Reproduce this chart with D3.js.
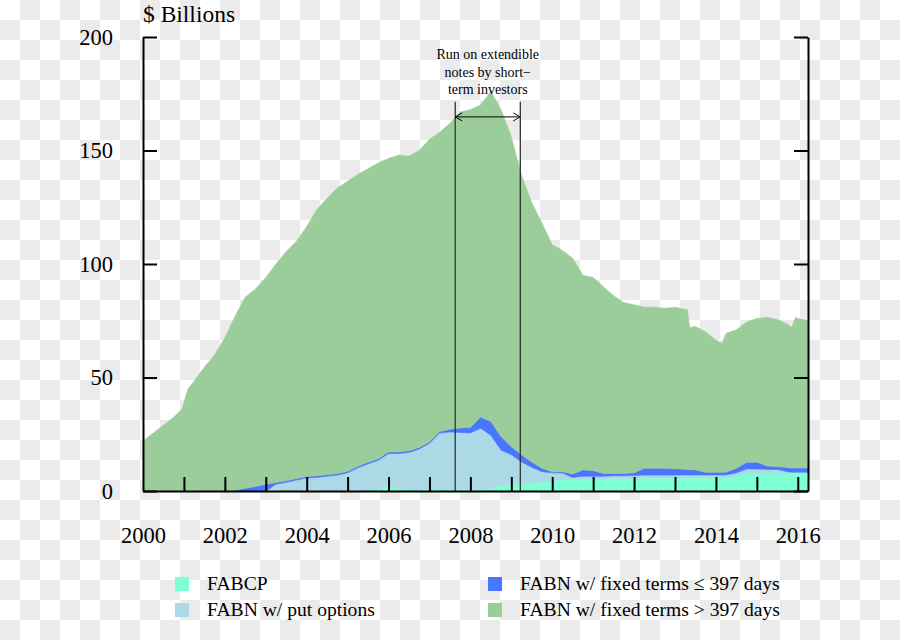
<!DOCTYPE html>
<html><head><meta charset="utf-8">
<script src="https://cdn.jsdelivr.net/npm/d3@7/dist/d3.min.js"></script>
<style>
body{margin:0;background:#fff;}
svg{display:block;}
text{font-family:"Liberation Serif","Times New Roman",serif;fill:#000;}
</style>
</head><body>
<svg id="chart" width="900" height="640"></svg>
<script>
// ---- data ($ billions at roughly quarterly dates) ----
const dates = [2000.00,2000.25,2000.50,2000.75,2000.95,2001.10,2001.25,2001.50,2001.75,2002.00,2002.25,2002.50,2002.75,
  2003.00,2003.25,2003.50,2003.75,2004.00,2004.25,2004.50,2004.75,2005.00,2005.25,2005.50,2005.75,
  2006.00,2006.25,2006.50,2006.75,2007.00,2007.25,2007.50,2007.75,2008.00,2008.25,2008.50,2008.75,
  2009.00,2009.25,2009.50,2009.75,2010.00,2010.25,2010.50,2010.75,2011.00,2011.25,2011.50,2011.75,
  2012.00,2012.25,2012.50,2012.75,2013.00,2013.25,2013.30,2013.36,2013.50,2013.75,2014.00,2014.15,2014.25,2014.50,2014.75,
  2015.00,2015.25,2015.50,2015.75,2015.85,2015.95,2016.00,2016.25];
const fabcp = [0,0,0,0,0,0,0,0,0,0,0,0,0,
  0,0,0,0,0,0,0,0,0,0.2,0.5,0.5,
  2.5,0.8,0.7,0.7,0.7,0.7,0.7,0.8,0.8,0.8,0.8,2.6,
  3,3.2,3.5,4,4.5,5,5,5,5.3,5.3,5.5,5.5,
  5.6,5.7,5.7,5.7,5.7,5.8,5.8,5.8,5.8,5.8,5.8,5.8,5.8,6.5,8,
  8,8,8,8,8,8,8,8];
const fabnPut = [0,0,0,0,0,0,0,0,0,0,0,0,0,
  0,3,3.8,4.8,5.7,6,6.5,7,8,10,11.5,13,
  14,15.7,16.3,17.8,20.3,24.8,25.3,25,24.8,26.8,23.8,15.4,
  13,9.6,7,4.5,3.5,2.9,1,1.5,1.2,1.2,1.2,1.2,
  1.2,1.3,1.3,1.3,1.3,1.3,1.3,1.3,1.3,1.3,1.3,1.3,1.3,1.5,1.7,
  1.7,1.5,1.5,0.5,0.3,0.3,0.3,0.3];
const fabnShort = [0,0,0,0,0,0,0,0,0,0,0.3,1.2,2,
  3,0.7,0.7,0.7,0.7,0.7,0.7,0.7,0.7,0.7,0.7,0.7,
  0.7,0.7,0.7,0.7,0.7,0.7,1.2,2,2.5,5,6,6,
  3.5,3.2,2.3,1.5,0.5,0.6,1.5,2.8,2.5,1.2,1,1,
  1.2,3,3,3,2.8,2.5,2.5,2.3,2.2,1.2,1.2,1.2,1.2,2,3,
  3,1.5,1.3,1.8,1.8,1.8,1.8,1.8];
const fabnLong = [22,25.5,29,32.5,36,45,48.5,54.5,60,67.5,76.7,84.3,87,
  91,96.3,101,104.5,110.1,117.3,121.8,125.8,127.8,128.6,129.3,130.3,
  129.3,130.8,129.8,130.8,133.3,131.8,134.8,139.2,139.9,137.4,145.4,144,
  136.5,123,114.2,108,100,97.5,95,85.7,85,82.3,78.3,75.3,
  74,71,71,70.5,71.2,70.4,70.4,62.6,63.2,61.7,58.2,56.7,61.2,61,61.8,
  63.3,65.5,64.7,63.2,61.9,66.5,65.9,64.9];

const seriesNames = ["FABCP","FABN w/ put options","FABN w/ fixed terms \u2264 397 days","FABN w/ fixed terms > 397 days"];
const seriesColors = ["#7FFFD4","#ADD8E6","#4876FF","#9BCD9B"];
const yTicks = [0,50,100,150,200];
const xLabelYears = [2000,2002,2004,2006,2008,2010,2012,2014,2016];
const xTickYears = d3.range(2000,2017);
const runPeriod = [2007.63,2009.22];
const runText = ["Run on extendible","notes by short\u2212","term investors"];

// ---- layout ----
const W=900,H=640;
const L=143,R=808,T=37,B=491;
const svg=d3.select("#chart");

// checkerboard background (transparent-image look of the reference)
const defs=svg.append("defs");
const pat=defs.append("pattern").attr("id","checker").attr("width",40).attr("height",40).attr("patternUnits","userSpaceOnUse");
pat.append("rect").attr("width",40).attr("height",40).attr("fill","#ffffff");
pat.append("rect").attr("x",20).attr("y",0).attr("width",20).attr("height",20).attr("fill","#ebebeb");
pat.append("rect").attr("x",0).attr("y",20).attr("width",20).attr("height",20).attr("fill","#ebebeb");
svg.append("rect").attr("width",W).attr("height",H).attr("fill","url(#checker)");

const x=d3.scaleLinear().domain([2000,2016.25]).range([L,R]);
const y=d3.scaleLinear().domain([0,200]).range([B,T]);

const keys=["cp","put","short","long"];
const rows=dates.map((t,i)=>({t,cp:fabcp[i],put:fabnPut[i],short:fabnShort[i],long:fabnLong[i]}));
const stack=d3.stack().keys(keys)(rows);
const area=d3.area().x(d=>x(d.data.t)).y0(d=>y(d[0])).y1(d=>y(d[1])).curve(d3.curveLinear);

svg.append("g").selectAll("path").data(stack).join("path")
  .attr("d",area).attr("fill",(d,i)=>seriesColors[i]).attr("stroke",(d,i)=>seriesColors[i]).attr("stroke-width",0.6);

// run annotation
const annG=svg.append("g");
runPeriod.forEach(t=>{
  annG.append("line").attr("x1",x(t)).attr("x2",x(t)).attr("y1",y(0)).attr("y2",y(171.5))
    .attr("stroke","#333").attr("stroke-width",1.3);
});
const ay=y(164.8);
annG.append("line").attr("x1",x(runPeriod[0])).attr("x2",x(runPeriod[1])).attr("y1",ay).attr("y2",ay).attr("stroke","#000").attr("stroke-width",1);
annG.append("path").attr("d",`M${x(runPeriod[0])+7},${ay-4}L${x(runPeriod[0])},${ay}L${x(runPeriod[0])+7},${ay+4}`).attr("fill","none").attr("stroke","#000").attr("stroke-width",1);
annG.append("path").attr("d",`M${x(runPeriod[1])-7},${ay-4}L${x(runPeriod[1])},${ay}L${x(runPeriod[1])-7},${ay+4}`).attr("fill","none").attr("stroke","#000").attr("stroke-width",1);
const cx=(x(runPeriod[0])+x(runPeriod[1]))/2;
runText.forEach((s,i)=>{
  annG.append("text").attr("x",cx).attr("y",59+i*17.5).attr("text-anchor","middle").attr("font-size","14px").text(s);
});

// axes
const axL=svg.append("g").attr("transform",`translate(${L},0)`)
  .call(d3.axisLeft(y).tickValues(yTicks).tickSizeInner(-14).tickSizeOuter(0).tickPadding(30));
const axR=svg.append("g").attr("transform",`translate(${R},0)`)
  .call(d3.axisRight(y).tickValues(yTicks).tickSizeInner(-14).tickSizeOuter(0).tickFormat(""));
const axB=svg.append("g").attr("transform",`translate(0,${B})`)
  .call(d3.axisBottom(x).tickValues(xTickYears).tickSizeInner(-14).tickSizeOuter(0).tickPadding(36)
    .tickFormat(d=>xLabelYears.includes(d)?String(d):""));
[axL,axR,axB].forEach(g=>{
  g.selectAll("path.domain").attr("stroke","#000").attr("stroke-width",2);
  g.selectAll(".tick line").attr("stroke","#000").attr("stroke-width",2);
  g.selectAll(".tick text").attr("font-family",'"Liberation Serif","Times New Roman",serif').attr("font-size","22.5px").attr("fill","#000");
});
axB.selectAll(".tick").filter(d=>d===2000).select("line").remove();

svg.append("text").attr("x",L).attr("y",22).attr("font-size","23.5px").text("$ Billions");

// legend
const legPos=[[175,577],[175,603],[488,577],[488,603]];
const leg=svg.append("g");
seriesNames.forEach((n,i)=>{
  const [lx,ly]=legPos[i];
  leg.append("rect").attr("x",lx).attr("y",ly).attr("width",14).attr("height",14).attr("fill",seriesColors[i]);
  leg.append("text").attr("x",lx+32).attr("y",ly+13).attr("font-size","19.6px").text(n);
});
</script>
</body></html>
